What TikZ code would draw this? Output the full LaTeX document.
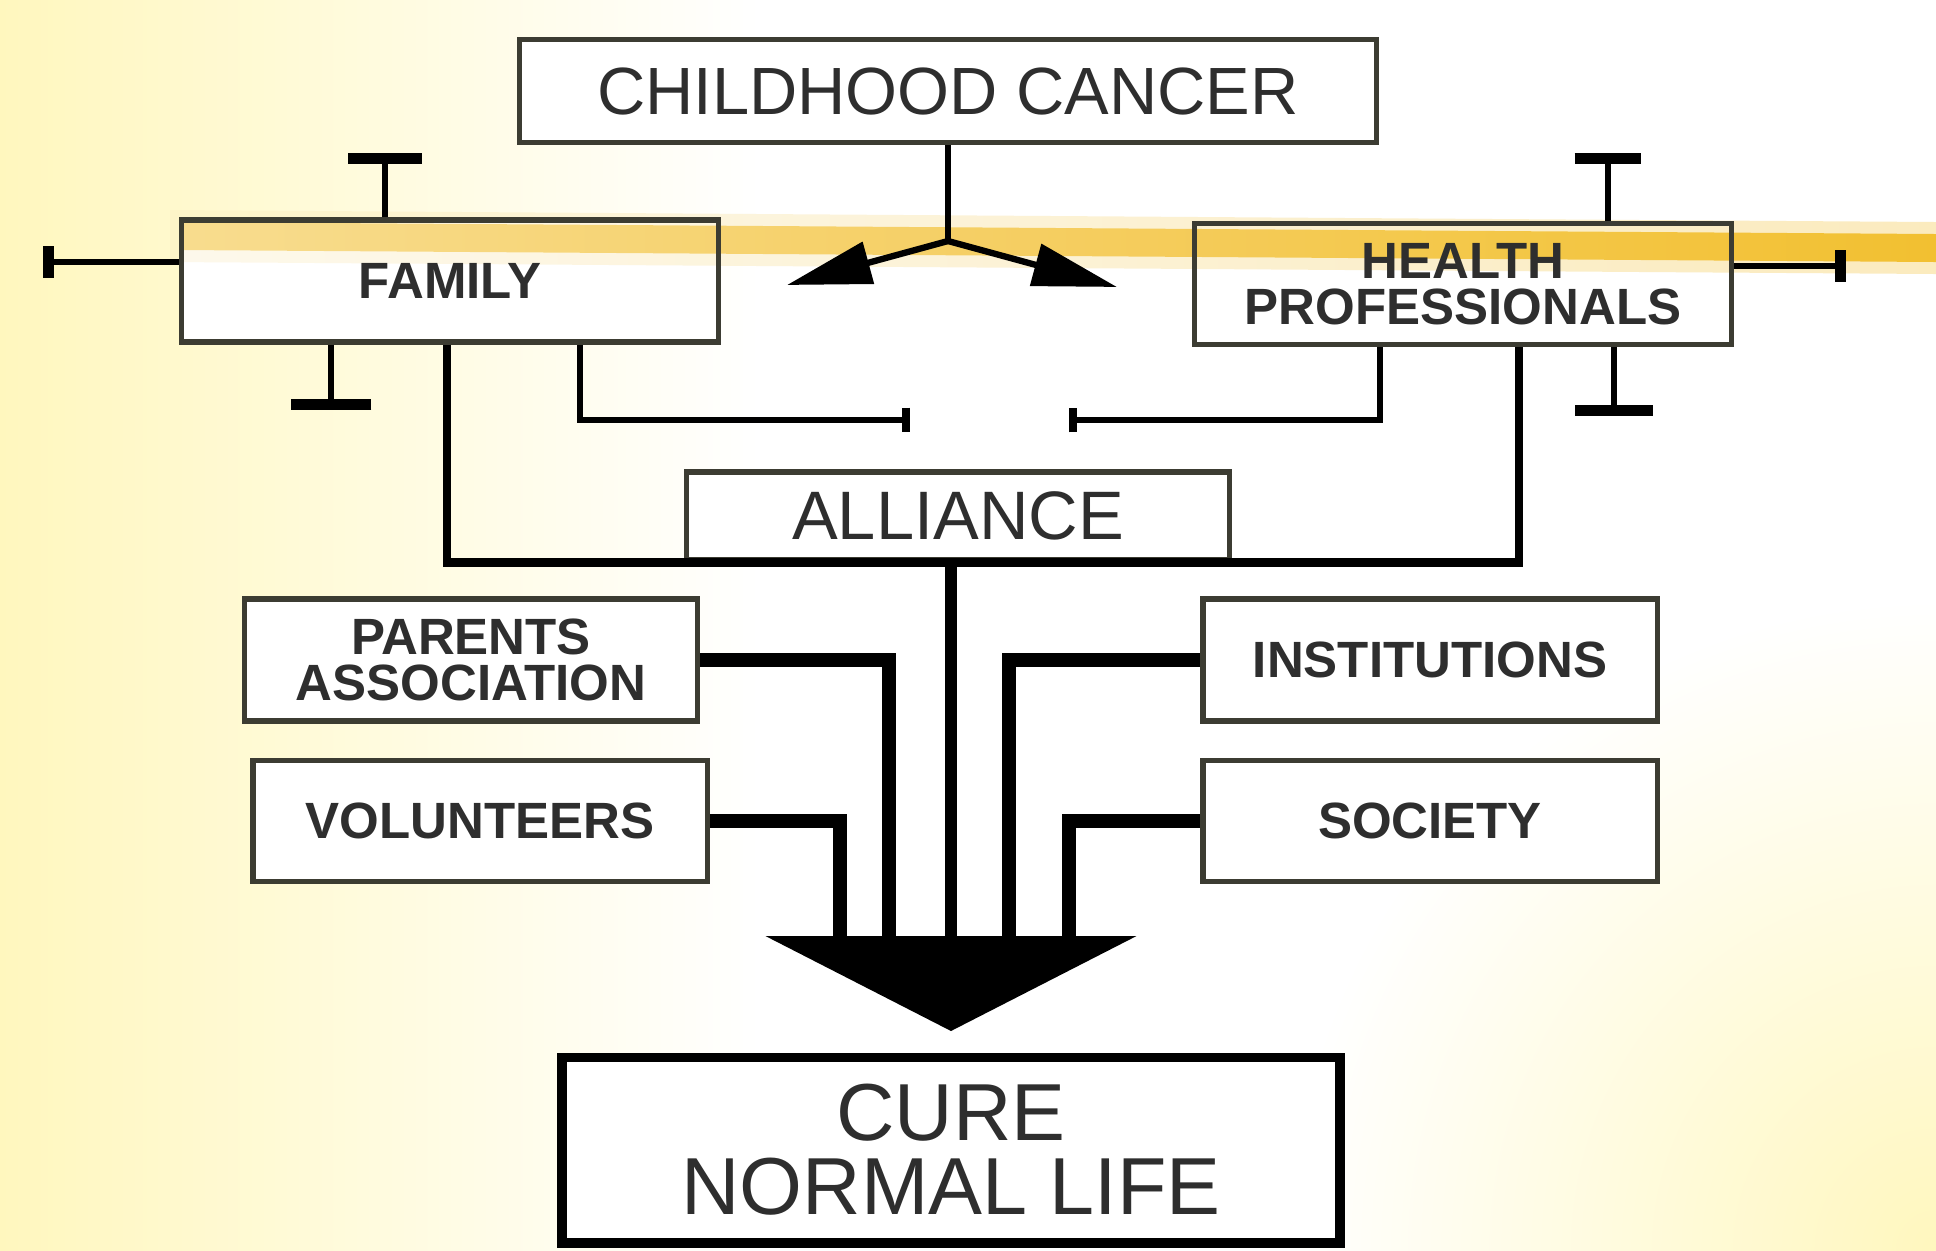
\documentclass[tikz,border=0pt]{standalone}
\usepackage{fontspec}
\setmainfont{Liberation Sans}
\usetikzlibrary{arrows.meta}

\definecolor{boxline}{HTML}{3C3C32}
\definecolor{txt}{HTML}{2E2E2E}
\definecolor{bgyel}{HTML}{FFF7BE}
\definecolor{streak}{HTML}{F2BE2A}

\pgfdeclarelayer{back}
\pgfsetlayers{back,main}

\tikzset{
  box/.style={draw=boxline, line width=1.5pt, inner sep=0pt, text=txt},
  tagbox/.style={box, font=\bfseries\fontsize{14.5}{13}\selectfont, align=center},
  wire/.style={line width=1.8pt, black},
  bracket/.style={line width=2.4pt, black},
  feed/.style={line width=4.2pt, black},
  tbar/.style={wire, -{Bar[width=#1, line width=3pt]}},
  tbar/.default=21pt,
  tick/.style={wire, -{Bar[width=7pt, line width=2.2pt]}},
}

\begin{document}
\begin{tikzpicture}[x=0.01cm, y=-0.01cm]
\useasboundingbox (0,0) rectangle (1936,1250);

% boxes
\node[box, font=\fontsize{19}{19}\selectfont, minimum width=8.57cm, minimum height=1.03cm] (cc) at (948,91) {CHILDHOOD CANCER};
\node[tagbox, minimum width=5.37cm, minimum height=1.22cm] (fam) at (450,281) {FAMILY};
\node[tagbox, minimum width=5.36cm, minimum height=1.21cm] (hp) at (1463,284) {HEALTH\\PROFESSIONALS};
\node[box, font=\fontsize{19.5}{19.5}\selectfont, minimum width=5.43cm, minimum height=0.88cm] (all) at (958,516) {ALLIANCE};
\node[tagbox, minimum width=4.53cm, minimum height=1.22cm] (pa) at (471,660) {PARENTS\\ASSOCIATION};
\node[tagbox, minimum width=4.54cm, minimum height=1.22cm] (inst) at (1430,660) {INSTITUTIONS};
\node[tagbox, minimum width=4.54cm, minimum height=1.21cm] (vol) at (480,821) {VOLUNTEERS};
\node[tagbox, minimum width=4.54cm, minimum height=1.21cm] (soc) at (1430,821) {SOCIETY};
\node[box, draw=black, line width=2.8pt, font=\fontsize{23}{21}\selectfont, align=center, minimum width=7.77cm, minimum height=1.85cm] (cure) at (951,1150) {CURE\\NORMAL LIFE};

% free ends
\coordinate (fork) at (948,241);
\coordinate (lt) at (787,285);
\coordinate (rt) at (1117,287);
\coordinate (famT) at (385,153);
\coordinate (famL) at (43,262);
\coordinate (famB) at (331,410);
\coordinate (hpT) at (1608,153);
\coordinate (hpR) at (1846,266);
\coordinate (hpB) at (1614,416);
\coordinate (famM) at (910,420);
\coordinate (hpM) at (1069,420);
\coordinate (paE) at (889,945);
\coordinate (volE) at (840,945);
\coordinate (instE) at (1009,945);
\coordinate (socE) at (1069,945);
\coordinate (tip) at (951,1031);

% cancer splits
\draw[wire] (cc.south) -- (fork);
\draw[wire, -{Triangle[length=24pt, width=12pt]}] (fork) -- (lt);
\draw[wire, -{Triangle[length=24pt, width=12pt]}] (fork) -- (rt);

% blocked ends
\draw[tbar] (famT |- fam.north) -- (famT);
\draw[tbar=9pt] (famL -| fam.west) -- (famL);
\draw[tbar=23pt] (famB |- fam.south) -- (famB);
\draw[tbar=19pt] (hpT |- hp.north) -- (hpT);
\draw[tbar=9pt] (hpR -| hp.east) -- (hpR);
\draw[tbar=22pt] (hpB |- hp.south) -- (hpB);

% reaching out
\draw[tick] ([xshift=1.3cm]fam.south) |- (famM);
\draw[tick] ([xshift=-0.83cm]hp.south) |- (hpM);
\draw[bracket] ([xshift=-0.03cm]fam.south) |- (all.south) -| ([xshift=0.56cm]hp.south);

% towards the cure
\draw[feed] (pa.east) -| (paE);
\draw[feed] (vol.east) -| (volE);
\draw[feed] (inst.west) -| (instE);
\draw[feed] (soc.west) -| (socE);
\draw[line width=3.6pt, -{Triangle[width=105pt, length=27pt]}] (tip |- all.south) -- (tip);

\begin{pgfonlayer}{back}
\fill[white] (0,0) rectangle (1936,1250);
\shade[left color=bgyel, right color=white] (0,0) rectangle (760,1250);
\begin{scope}
\clip (0,0) rectangle (1936,1250);
\shade[inner color=bgyel, outer color=white] (1936,1250) circle (6.5cm);
\end{scope}
\foreach \n in {cc,fam,hp,all,pa,inst,vol,soc,cure}
  \fill[white] (\n.north west) rectangle (\n.south east);
\shade[left color=streak!30, right color=streak, opacity=0.3] (170,210) -- (1936,222) -- (1936,274) -- (170,262) -- cycle;
\shade[left color=streak!55, right color=streak, opacity=0.95] (180,222) -- (1936,234) -- (1936,262) -- (180,250) -- cycle;
\end{pgfonlayer}
\end{tikzpicture}
\end{document}
